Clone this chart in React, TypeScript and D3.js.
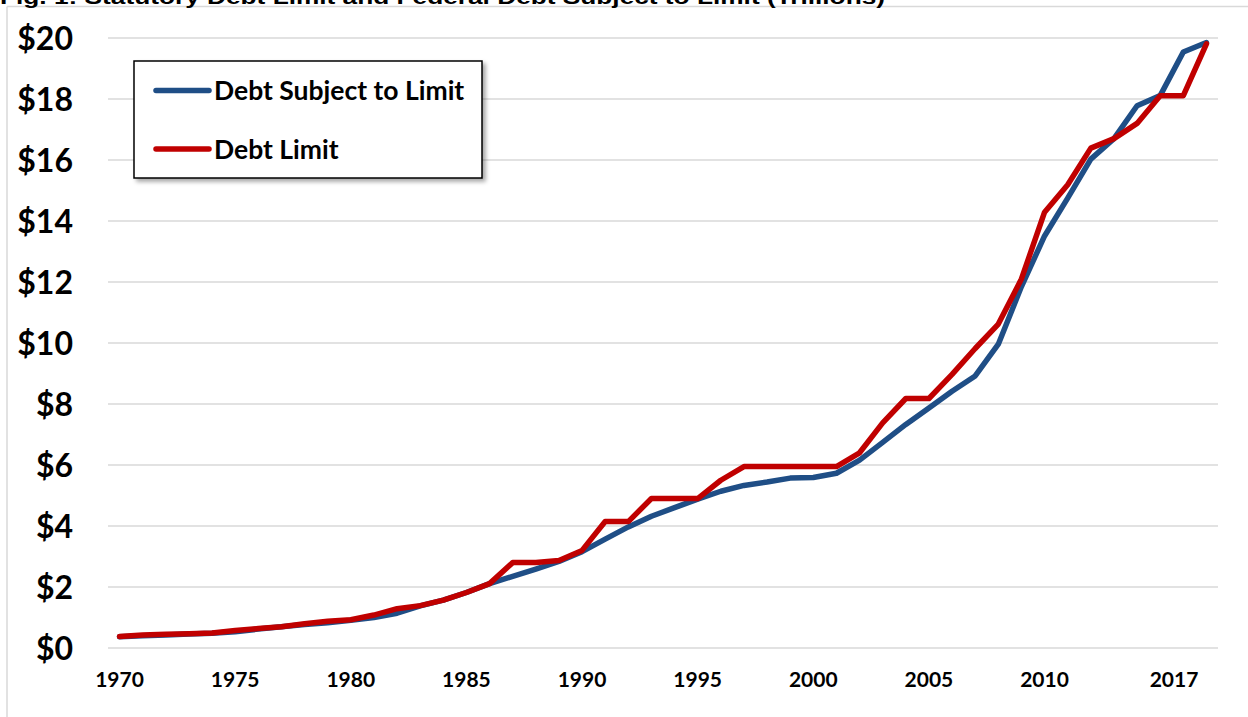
import React from 'react';
import * as d3 from 'd3';

// fiscal years, one point each
const years = [
  1970, 1971, 1972, 1973, 1974, 1975, 1976, 1977, 1978, 1979,
  1980, 1981, 1982, 1983, 1984, 1985, 1986, 1987, 1988, 1989,
  1990, 1991, 1992, 1993, 1994, 1995, 1996, 1997, 1998, 1999,
  2000, 2001, 2002, 2003, 2004, 2005, 2006, 2007, 2008, 2009,
  2010, 2011, 2012, 2013, 2014, 2015, 2016, 2017,
];

// $ trillions
const debtSubject = [
  0.37, 0.40, 0.43, 0.46, 0.48, 0.53, 0.62, 0.70, 0.77, 0.83,
  0.91, 1.00, 1.14, 1.38, 1.57, 1.82, 2.11, 2.35, 2.59, 2.84,
  3.16, 3.57, 3.97, 4.32, 4.60, 4.88, 5.14, 5.33, 5.44, 5.57,
  5.59, 5.73, 6.16, 6.74, 7.33, 7.87, 8.42, 8.92, 9.96, 11.85,
  13.51, 14.75, 16.03, 16.70, 17.78, 18.11, 19.54, 19.85,
];

const debtLimit = [
  0.377, 0.43, 0.45, 0.465, 0.495, 0.577, 0.636, 0.70, 0.798, 0.879,
  0.925, 1.08, 1.29, 1.39, 1.57, 1.82, 2.11, 2.80, 2.80, 2.87,
  3.20, 4.145, 4.145, 4.90, 4.90, 4.90, 5.50, 5.95, 5.95, 5.95,
  5.95, 5.95, 6.40, 7.38, 8.18, 8.18, 8.97, 9.82, 10.62, 12.10,
  14.29, 15.19, 16.39, 16.70, 17.20, 18.11, 18.11, 19.81,
];

const seriesNames = ['Debt Subject to Limit', 'Debt Limit'];
const seriesColors = ['#1f4e86', '#c00000'];

const yTicks = [0, 2, 4, 6, 8, 10, 12, 14, 16, 18, 20];
// label positions as drawn in the original (the last one sits left of 2017)
const xTickAt = [1970, 1975, 1980, 1985, 1990, 1995, 2000, 2005, 2010, 2015.6];
const xTickLabels = ['1970', '1975', '1980', '1985', '1990', '1995', '2000', '2005', '2010', '2017'];

const title = 'Fig. 1: Statutory Debt Limit and Federal Debt Subject to Limit (Trillions)';

const W = 1248;
const H = 717;
const plotLeft = 108;
const plotRight = 1218;
const plotTop = 38;
const plotBottom = 648;
const labelFont = 'Lato, "Open Sans", sans-serif';

export default function App() {
  const band = (plotRight - plotLeft) / years.length;
  const x = d3.scaleLinear()
    .domain([years[0], years[years.length - 1]])
    .range([plotLeft + band / 2, plotRight - band / 2]);
  const y = d3.scaleLinear().domain([0, 20]).range([plotBottom, plotTop]);

  const line = d3.line<number>()
    .x((d, i) => x(years[i]))
    .y(d => y(d));

  const series = [debtSubject, debtLimit];

  return (
    <svg
      width={W}
      height={H}
      style={{ position: 'absolute', left: 0, top: 0, display: 'block', background: '#fff' }}
    >
      <defs>
        <filter id="legendShadow" x="-10%" y="-10%" width="130%" height="140%">
          <feDropShadow dx="3" dy="3" stdDeviation="2" floodColor="#000" floodOpacity="0.35" />
        </filter>
      </defs>

      {/* chart frame */}
      <line x1={7} x2={W} y1={6.5} y2={6.5} stroke="#d9d9d9" strokeWidth={1.5} />
      <line x1={7} x2={7} y1={6.5} y2={H} stroke="#d9d9d9" strokeWidth={1.5} />

      {/* title, cut off at the top as in the source */}
      <text
        x={0}
        y={3.5}
        fontFamily='"Liberation Sans", Arial, sans-serif'
        fontWeight="bold"
        fontSize={20}
        textLength={885}
        lengthAdjust="spacingAndGlyphs"
        fill="#000"
      >
        {title}
      </text>

      {/* gridlines */}
      {yTicks.map(t => (
        <line key={t} x1={plotLeft} x2={plotRight} y1={y(t)} y2={y(t)} stroke="#d9d9d9" strokeWidth={1.5} />
      ))}

      {/* y labels */}
      {yTicks.map(t => (
        <text
          key={t}
          x={73}
          y={y(t)}
          dy="0.36em"
          textAnchor="end"
          fontFamily={labelFont}
          fontWeight="bold"
          fontSize={32}
          fill="#000"
        >
          {'$' + t}
        </text>
      ))}

      {/* x labels */}
      {xTickAt.map((t, i) => (
        <text
          key={t}
          x={x(t)}
          y={687}
          textAnchor="middle"
          fontFamily={labelFont}
          fontWeight="bold"
          fontSize={21}
          fill="#000"
        >
          {xTickLabels[i]}
        </text>
      ))}

      {/* lines */}
      {series.map((s, i) => (
        <path
          key={seriesNames[i]}
          d={line(s) || ''}
          fill="none"
          stroke={seriesColors[i]}
          strokeWidth={5.5}
          strokeLinejoin="round"
          strokeLinecap="round"
        />
      ))}

      {/* legend */}
      <g>
        <rect x={134} y={61} width={348} height={117} fill="#fff" stroke="#000" strokeWidth={1.5} filter="url(#legendShadow)" />
        {seriesNames.map((name, i) => (
          <g key={name} transform={`translate(0,${90.5 + i * 58.5})`}>
            <line x1={156} x2={209} y1={0} y2={0} stroke={seriesColors[i]} strokeWidth={5.5} strokeLinecap="round" />
            <text x={214} y={0} dy="0.36em" fontFamily={labelFont} fontWeight="bold" fontSize={26.5} fill="#000">
              {name}
            </text>
          </g>
        ))}
      </g>
    </svg>
  );
}
